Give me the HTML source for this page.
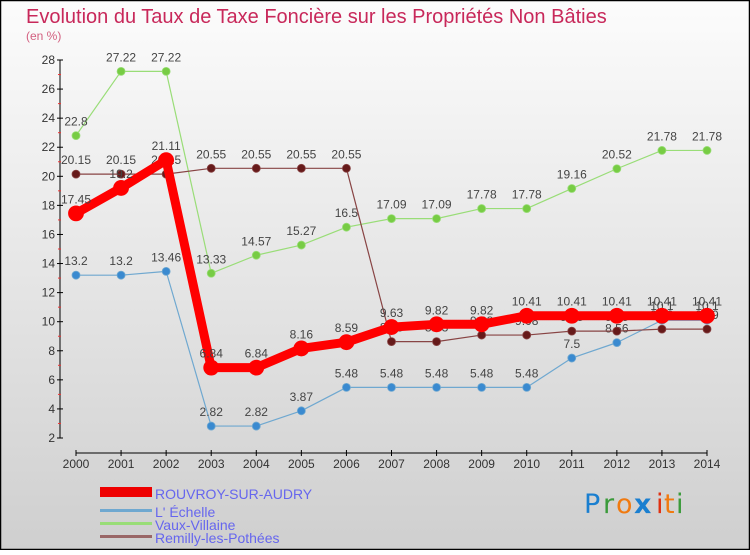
<!DOCTYPE html>
<html><head><meta charset="utf-8"><style>
html,body{margin:0;padding:0}
body{width:750px;height:550px;overflow:hidden;font-family:"Liberation Sans",sans-serif}
</style></head><body>
<svg width="750" height="550" xmlns="http://www.w3.org/2000/svg">
<defs><linearGradient id="bg" x1="0" y1="0" x2="0" y2="1"><stop offset="0" stop-color="#fcfcfc"/><stop offset="1" stop-color="#cfcfcf"/></linearGradient></defs>
<rect x="0.5" y="0.5" width="749" height="549" fill="url(#bg)" stroke="#000" stroke-width="1.5"/>
<text x="26" y="23" font-size="20" fill="#c8285a">Evolution du Taux de Taxe Foncière sur les Propriétés Non Bâties</text>
<text x="26" y="40" font-size="12" fill="#d36080">(en %)</text>
<g id="axes"></g>
<g id="series"></g>
<g id="legend">
<rect x="100" y="487" width="52" height="10" fill="#e00"/>
<text x="155" y="499" font-size="14" fill="#6666ee">ROUVROY-SUR-AUDRY</text>
<rect x="100" y="509" width="52" height="3" fill="#6fa8d0"/>
<text x="155" y="517" font-size="14" fill="#6666ee">L' Échelle</text>
<rect x="100" y="522" width="52" height="3" fill="#99dd77"/>
<text x="155" y="530" font-size="14" fill="#6666ee">Vaux-Villaine</text>
<rect x="100" y="535" width="52" height="3" fill="#996666"/>
<text x="155" y="543" font-size="14" fill="#6666ee">Remilly-les-Pothées</text>
</g>
<g font-size="27" font-family="DejaVu Sans, sans-serif">
<text x="584" y="513" fill="#1a7fd0">P</text><text x="603" y="513" fill="#3a9a3a">r</text><text x="616" y="513" fill="#f07a10">o</text><text x="634" y="513" fill="#1a7fd0" font-weight="bold">x</text><text x="656" y="513" fill="#e03010">i</text><text x="664" y="513" fill="#f07a10">t</text><text x="676" y="513" fill="#3a9a3a">i</text>
</g>
</svg>
<script>
const years=["2000","2001","2002","2003","2004","2005","2006","2007","2008","2009","2010","2011","2012","2013","2014"];
const yTicks=[2,4,6,8,10,12,14,16,18,20,22,24,26,28];
const rouvroy=[17.45,19.2,21.11,6.84,6.84,8.16,8.59,9.63,9.82,9.82,10.41,10.41,10.41,10.41,10.41];
const echelle=[13.2,13.2,13.46,2.82,2.82,3.87,5.48,5.48,5.48,5.48,5.48,7.5,8.56,10.1,10.1];
const vaux=[22.8,27.22,27.22,13.33,14.57,15.27,16.5,17.09,17.09,17.78,17.78,19.16,20.52,21.78,21.78];
const remilly=[20.15,20.15,20.15,20.55,20.55,20.55,20.55,8.63,8.63,9.08,9.08,9.35,9.35,9.49,9.49];
const NS="http://www.w3.org/2000/svg";
const X=i=>76+i*(631/14);
const Y=v=>438-(v-2)*(378/26);
function mk(tag,attrs,parent,txt){const e=document.createElementNS(NS,tag);for(const k in attrs)e.setAttribute(k,attrs[k]);if(txt!==undefined)e.textContent=txt;parent.appendChild(e);return e;}
const axes=document.getElementById('axes');
let ya=mk('line',{x1:60,y1:60,x2:60,y2:438,stroke:'#000','stroke-width':1},axes);


yTicks.forEach(t=>{
  mk('line',{x1:57,y1:Y(t),x2:63,y2:Y(t),stroke:'#000'},axes);
  let l=mk('text',{x:55,y:Y(t)+4,'font-size':12,'text-anchor':'end',fill:'#333'},axes,String(t));
  
  
  if(t<28) mk('line',{x1:58,y1:Y(t+1),x2:61,y2:Y(t+1),stroke:'#e33'},axes);
});
let xa=mk('line',{x1:76,y1:453,x2:707,y2:453,stroke:'#000','stroke-width':1},axes);


years.forEach((y,i)=>{
  mk('line',{x1:X(i),y1:450,x2:X(i),y2:456,stroke:'#000'},axes);
  let l=mk('text',{x:X(i),y:468,'font-size':12,'text-anchor':'middle',fill:'#333'},axes,y);
  
  
});
const ser=document.getElementById('series');
function draw(name,data,color,dot,w,r){
  const g=mk('g',{},ser);
  
  
  const p=mk('polyline',{points:data.map((v,i)=>X(i)+','+Y(v)).join(' '),fill:'none',stroke:color,'stroke-width':w,'stroke-linejoin':'round'},g);
  
  
  data.forEach((v,i)=>{
    const c=mk('circle',{cx:X(i),cy:Y(v),r:r,fill:dot,stroke:color,'stroke-width':0.8},g);
    
    
    const t=mk('text',{x:X(i),y:Y(v)-10,'font-size':12,'text-anchor':'middle',fill:'#444'},g,String(v));
    
    
  });
}
draw('vaux',vaux,'#99dd77','#77cc44',1.2,4);
draw('echelle',echelle,'#6fa8d0','#3a8ad0',1.2,4);
draw('remilly',remilly,'#884444','#661a1a',1.2,4);
draw('rouvroy',rouvroy,'#f00','#f00',9,7.5);
</script>
</body></html>
